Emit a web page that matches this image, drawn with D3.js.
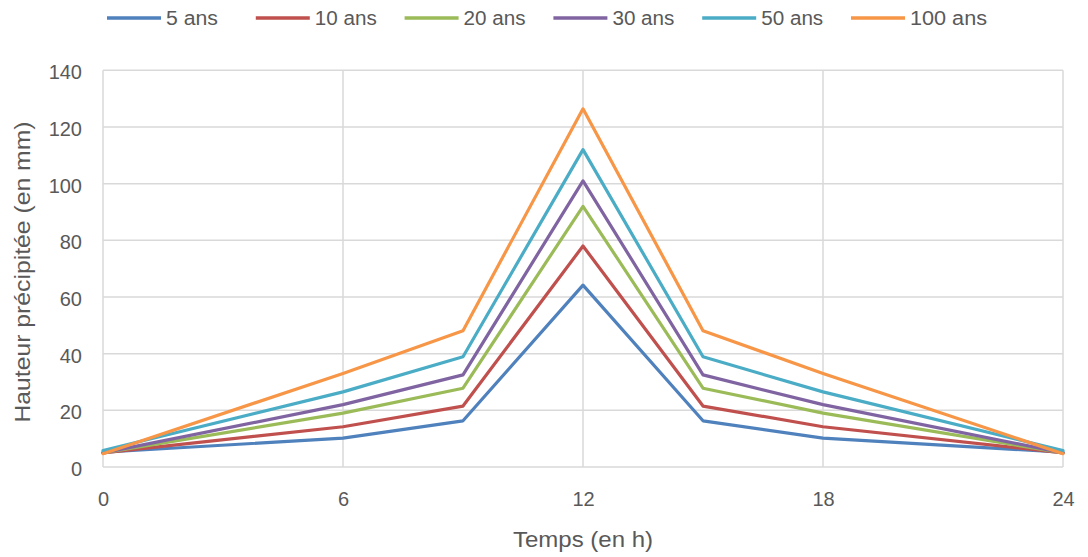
<!DOCTYPE html>
<html>
<head>
<meta charset="utf-8">
<script src="https://cdn.jsdelivr.net/npm/d3@7"></script>
<style>
  html, body { margin: 0; padding: 0; background: #fff; }
  svg { display: block; font-family: "Liberation Sans", Arial, sans-serif; }
</style>
</head>
<body>
<svg id="chart" width="1088" height="557"></svg>
<script>
// Hyetographs: cumulative rainfall height by return period
const hours = [0, 6, 9, 12, 15, 18, 24];
const periods = ["5 ans", "10 ans", "20 ans", "30 ans", "50 ans", "100 ans"];
const colors = ["#4F81BD", "#C0504D", "#9BBB59", "#8064A2", "#4BACC6", "#F79646"];

const h5   = [5.2, 10.2, 16.3, 64.2, 16.3, 10.2, 5.2];
const h10  = [5.0, 14.2, 21.5, 78.0, 21.5, 14.2, 5.0];
const h20  = [5.0, 19.0, 27.8, 92.0, 27.8, 19.0, 5.0];
const h30  = [5.0, 22.0, 32.5, 101.0, 32.5, 22.0, 5.0];
const h50  = [5.8, 26.5, 38.9, 112.0, 38.9, 26.5, 5.8];
const h100 = [4.7, 33.0, 48.1, 126.4, 48.1, 33.0, 4.7];
const seriesValues = [h5, h10, h20, h30, h50, h100];

const xTicks = [0, 6, 12, 18, 24];
const yTicks = [0, 20, 40, 60, 80, 100, 120, 140];

const xTitle = "Temps (en h)";
const yTitle = "Hauteur précipitée (en mm)";

const svg = d3.select("#chart");
const plotLeft = 103, plotRight = 1063, plotTop = 70.3, plotBottom = 467;

const x = d3.scaleLinear().domain([0, 24]).range([plotLeft, plotRight]);
const y = d3.scaleLinear().domain([0, 140]).range([plotBottom, plotTop]);

const grid = "#d9d9d9";
const textCol = "#595959";

// grid lines
svg.append("g").selectAll("line").data(yTicks).join("line")
  .attr("x1", plotLeft).attr("x2", plotRight)
  .attr("y1", d => y(d)).attr("y2", d => y(d))
  .attr("stroke", grid).attr("stroke-width", 1.5);
svg.append("g").selectAll("line").data(xTicks).join("line")
  .attr("x1", d => x(d)).attr("x2", d => x(d))
  .attr("y1", plotTop).attr("y2", plotBottom)
  .attr("stroke", grid).attr("stroke-width", 1.5);

// axes (labels only)
const xAxis = d3.axisBottom(x).tickValues(xTicks).tickSize(0).tickPadding(0);
const gx = svg.append("g").attr("transform", `translate(0,${plotBottom})`).call(xAxis);
gx.select(".domain").remove();
gx.selectAll("text").attr("y", 39).attr("dy", 0)
  .attr("fill", textCol).attr("font-size", 20).attr("font-family", "Liberation Sans, Arial, sans-serif");

const yAxis = d3.axisLeft(y).tickValues(yTicks).tickSize(0).tickPadding(0);
const gy = svg.append("g").attr("transform", `translate(82,0)`).call(yAxis);
gy.select(".domain").remove();
gy.selectAll("text").attr("x", 0).attr("dy", "0.42em")
  .attr("fill", textCol).attr("font-size", 20).attr("font-family", "Liberation Sans, Arial, sans-serif");

// axis titles
svg.append("text").attr("x", 583).attr("y", 547)
  .attr("text-anchor", "middle").attr("fill", textCol).attr("font-size", 22)
  .attr("textLength", 140).attr("lengthAdjust", "spacingAndGlyphs")
  .text(xTitle);
svg.append("text")
  .attr("transform", "translate(30,272) rotate(-90)")
  .attr("text-anchor", "middle").attr("fill", textCol).attr("font-size", 22)
  .attr("textLength", 301).attr("lengthAdjust", "spacingAndGlyphs")
  .text(yTitle);

// series lines
const line = d3.line().x((d, i) => x(hours[i])).y(d => y(d));
svg.append("g").selectAll("path").data(seriesValues).join("path")
  .attr("d", line)
  .attr("fill", "none")
  .attr("stroke", (d, i) => colors[i])
  .attr("stroke-width", 3.2)
  .attr("stroke-linejoin", "round")
  .attr("stroke-linecap", "round");

// legend
const textWidths = [52, 62, 62, 62, 62, 77];
const leg = svg.append("g").selectAll("g").data(periods).join("g")
  .attr("transform", (d, i) => `translate(${107 + i * 148.8},18)`);
leg.append("line").attr("x1", 0).attr("x2", 54).attr("y1", 0).attr("y2", 0)
  .attr("stroke", (d, i) => colors[i]).attr("stroke-width", 3.5);
leg.append("text").attr("x", 59).attr("y", 7)
  .attr("fill", textCol).attr("font-size", 20)
  .attr("textLength", (d, i) => textWidths[i]).attr("lengthAdjust", "spacingAndGlyphs")
  .text(d => d);
</script>
</body>
</html>
